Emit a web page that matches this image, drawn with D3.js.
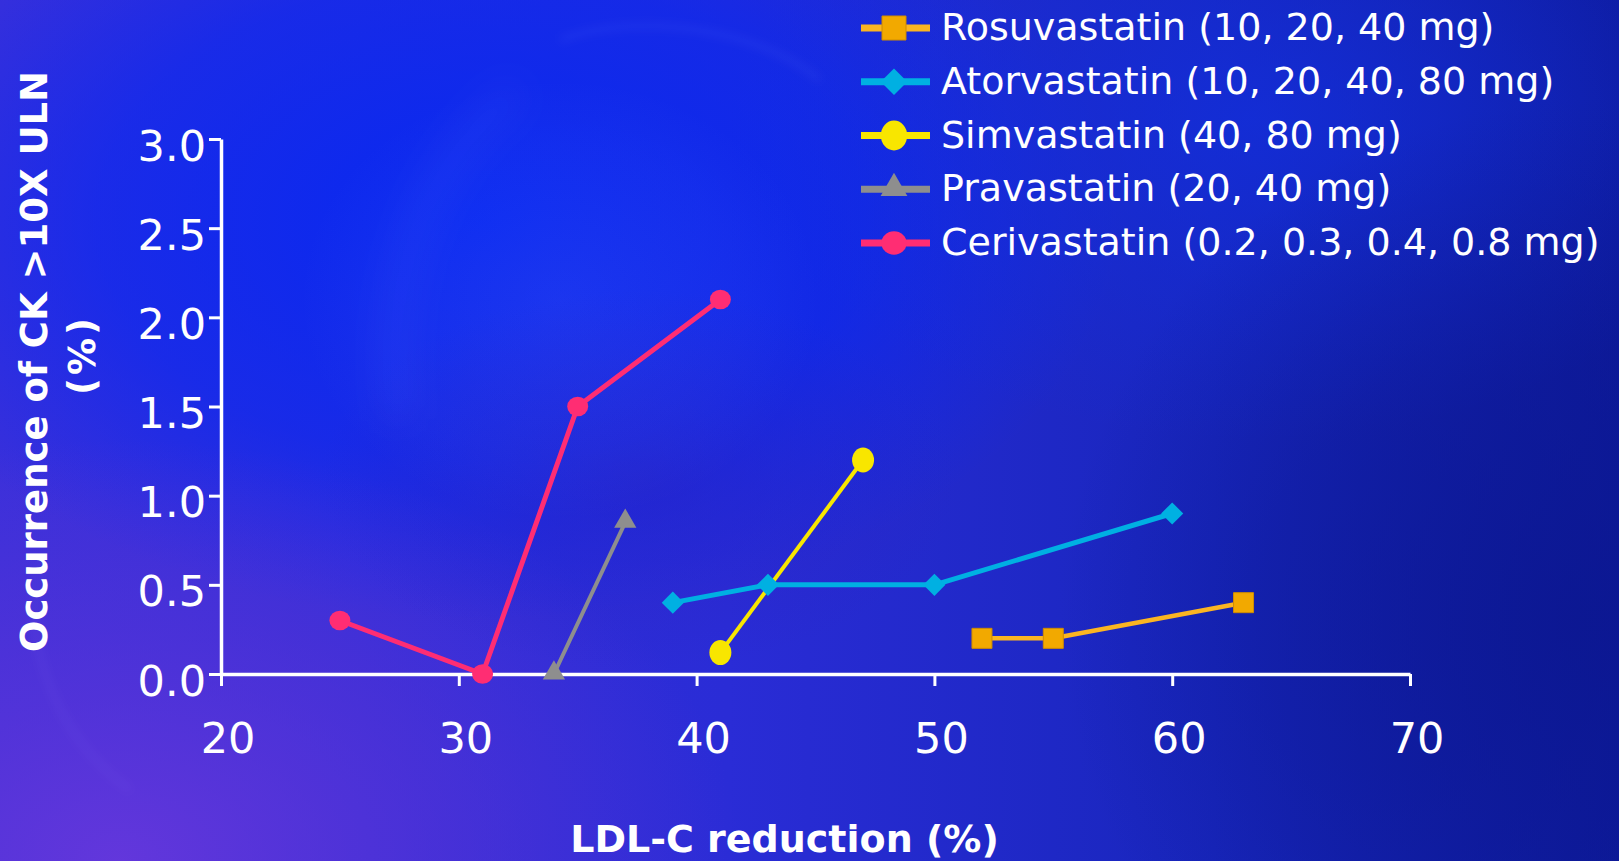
<!DOCTYPE html>
<html>
<head>
<meta charset="utf-8">
<script src="https://cdn.jsdelivr.net/npm/d3@7"></script>
<style>
  html, body { margin: 0; padding: 0; overflow: hidden; background: #1b24c8; }
  svg { display: block; }
</style>
</head>
<body>
<svg id="chart" width="1619" height="861"></svg>
<script>
// ---- data: LDL-C reduction (%) vs occurrence of CK > 10x ULN (%) ----
const seriesNames = [
  "Rosuvastatin (10, 20, 40 mg)",
  "Atorvastatin (10, 20, 40, 80 mg)",
  "Simvastatin (40, 80 mg)",
  "Pravastatin (20, 40 mg)",
  "Cerivastatin (0.2, 0.3, 0.4, 0.8 mg)"
];
const rosuvastatinX = [52, 55, 63];
const rosuvastatinY = [0.2, 0.2, 0.4];
const atorvastatinX = [39, 43, 50, 60];
const atorvastatinY = [0.4, 0.5, 0.5, 0.9];
const simvastatinX = [41, 47];
const simvastatinY = [0.12, 1.2];
const pravastatinX = [34, 37];
const pravastatinY = [0.0, 0.85];
const cerivastatinX = [25, 31, 35, 41];
const cerivastatinY = [0.3, 0.0, 1.5, 2.1];

const xTicks = [20, 30, 40, 50, 60, 70];
const yTicks = [0, 0.5, 1.0, 1.5, 2.0, 2.5, 3.0];
const xTitle = "LDL-C reduction (%)";
const yTitleLines = ["Occurrence of CK >10X ULN", "(%)"];

// ---- styling per series ----
const styles = [
  { key: "rosu", line: "#FBB522", fill: "#F2A900", marker: "square",  width: 4.5 },
  { key: "ator", line: "#00B0E2", fill: "#00B0E2", marker: "diamond", width: 5 },
  { key: "simv", line: "#F8E600", fill: "#F8E600", marker: "ellipse", width: 4 },
  { key: "prav", line: "#8E8E8E", fill: "#8E8E8E", marker: "triangle", width: 4 },
  { key: "ceri", line: "#FF2D73", fill: "#FF2D73", marker: "circle",  width: 5 }
];
const series = [
  { name: seriesNames[0], xs: rosuvastatinX, ys: rosuvastatinY, s: styles[0] },
  { name: seriesNames[1], xs: atorvastatinX, ys: atorvastatinY, s: styles[1] },
  { name: seriesNames[2], xs: simvastatinX, ys: simvastatinY, s: styles[2] },
  { name: seriesNames[3], xs: pravastatinX, ys: pravastatinY, s: styles[3] },
  { name: seriesNames[4], xs: cerivastatinX, ys: cerivastatinY, s: styles[4] }
];

const W = 1619, H = 861;
const svg = d3.select("#chart");
const defs = svg.append("defs");

// ---- background ----
const base = defs.append("linearGradient").attr("id", "bgBase")
  .attr("x1", 0).attr("y1", 0).attr("x2", 1).attr("y2", 0);
[[0, "#3a30da"], [0.45, "#2a2cd6"], [0.75, "#1826bd"], [1, "#0e1b9e"]]
  .forEach(([o, c]) => base.append("stop").attr("offset", o).attr("stop-color", c));

function radial(id, stops) {
  const g = defs.append("radialGradient").attr("id", id);
  stops.forEach(([o, c, a]) => g.append("stop").attr("offset", o).attr("stop-color", c).attr("stop-opacity", a));
}
radial("bgBlue",   [[0, "#0628f2", 0.95], [0.6, "#0628f2", 0.6], [1, "#0628f2", 0]]);
radial("bgPurple", [[0, "#6a38dc", 0.85], [0.6, "#6034d6", 0.4], [1, "#6034d6", 0]]);
radial("bgNavy",   [[0, "#0b168e", 0.75], [0.6, "#0b168e", 0.35], [1, "#0b168e", 0]]);
radial("bgTopR",   [[0, "#1230e0", 0.7], [1, "#1230e0", 0]]);
radial("bgMid",    [[0, "#2a22c0", 0.5], [1, "#2a22c0", 0]]);
radial("haze",     [[0, "#9aa8ff", 0.10], [0.7, "#9aa8ff", 0.04], [1, "#9aa8ff", 0]]);

const blur = defs.append("filter").attr("id", "soft")
  .attr("x", "-50%").attr("y", "-50%").attr("width", "200%").attr("height", "200%");
blur.append("feGaussianBlur").attr("stdDeviation", 18);
const blurS = defs.append("filter").attr("id", "softS")
  .attr("x", "-50%").attr("y", "-50%").attr("width", "200%").attr("height", "200%");
blurS.append("feGaussianBlur").attr("stdDeviation", 5);

const bg = svg.append("g").attr("class", "background");
bg.append("rect").attr("width", W).attr("height", H).attr("fill", "url(#bgBase)");
bg.append("ellipse").attr("cx", 480).attr("cy", 220).attr("rx", 640).attr("ry", 400).attr("fill", "url(#bgBlue)");
bg.append("ellipse").attr("cx", 1250).attr("cy", 120).attr("rx", 520).attr("ry", 320).attr("fill", "url(#bgTopR)");
bg.append("ellipse").attr("cx", 120).attr("cy", 860).attr("rx", 620).attr("ry", 420).attr("fill", "url(#bgPurple)");
bg.append("ellipse").attr("cx", 1580).attr("cy", 620).attr("rx", 520).attr("ry", 520).attr("fill", "url(#bgNavy)");
bg.append("ellipse").attr("cx", 640).attr("cy", 480).attr("rx", 320).attr("ry", 190).attr("fill", "url(#bgMid)");

// soft smoke haze
bg.append("ellipse").attr("cx", 560).attr("cy", 300).attr("rx", 260).attr("ry", 220).attr("fill", "url(#haze)");
const swirl = bg.append("g").attr("fill", "none").attr("stroke", "#b8c2ff");
swirl.append("path").attr("d", "M400,420 C380,300 420,160 520,90")
  .attr("stroke-width", 30).attr("stroke-opacity", 0.05).attr("filter", "url(#soft)");
swirl.append("path").attr("d", "M560,40 C640,10 760,30 820,80")
  .attr("stroke-width", 5).attr("stroke-opacity", 0.08).attr("filter", "url(#softS)");
swirl.append("path").attr("d", "M40,560 C20,650 60,740 130,790")
  .attr("stroke-width", 4).attr("stroke-opacity", 0.08).attr("filter", "url(#softS)");

// ---- scales ----
const x = d3.scaleLinear().domain([20, 70]).range([221, 1410]);
const y = d3.scaleLinear().domain([0, 3]).range([674, 139]);

const FONT = "'DejaVu Sans', Verdana, sans-serif";

// ---- axes ----
const yAxis = svg.append("g").attr("transform", `translate(${x(20)},0)`)
  .call(d3.axisLeft(y).tickValues(yTicks).tickFormat(d3.format(".1f"))
    .tickSize(12).tickSizeOuter(0).tickPadding(3));
const xAxis = svg.append("g").attr("transform", `translate(0,${y(0)})`)
  .call(d3.axisBottom(x).tickValues(xTicks).tickFormat(d3.format("d"))
    .tickSize(12).tickSizeOuter(0).tickPadding(36));

[yAxis, xAxis].forEach(g => {
  g.select(".domain").attr("stroke", "#fff").attr("stroke-width", 3.5);
  g.selectAll(".tick line").attr("stroke", "#fff").attr("stroke-width", 3);
  g.selectAll(".tick text").attr("fill", "#fff")
    .style("font-family", FONT).style("font-size", "43px");
});
yAxis.selectAll(".tick text").attr("dy", "0.49em");
xAxis.selectAll(".tick text").attr("dx", 6.5).attr("dy", "0.71em");

// axis titles
svg.append("text").attr("x", 784.5).attr("y", 852)
  .attr("text-anchor", "middle").attr("fill", "#fff")
  .style("font-family", FONT).style("font-weight", "bold").style("font-size", "38px")
  .text(xTitle);
svg.append("text").attr("transform", "translate(46.5,361.5) rotate(-90)")
  .attr("text-anchor", "middle").attr("fill", "#fff")
  .style("font-family", FONT).style("font-weight", "bold").style("font-size", "37px")
  .text(yTitleLines[0]);
svg.append("text").attr("transform", "translate(95,355) rotate(-90)")
  .attr("text-anchor", "middle").attr("fill", "#fff")
  .style("font-family", FONT).style("font-weight", "bold").style("font-size", "37px")
  .attr("letter-spacing", "3px")
  .text(yTitleLines[1]);

// ---- marker drawing ----
function drawMarker(sel, kind, color, scale) {
  const k = scale || 1;
  if (kind === "square") {
    sel.append("path").attr("d", d3.symbol(d3.symbolSquare, 400 * k * k)())
      .attr("fill", color).attr("stroke", "#d08c00").attr("stroke-width", 1);
  } else if (kind === "diamond") {
    sel.append("path").attr("d", d3.symbol(d3.symbolSquare, 245 * k * k)())
      .attr("transform", "rotate(45)").attr("fill", color);
  } else if (kind === "triangle") {
    sel.append("path").attr("d", d3.symbol(d3.symbolTriangle, 215 * k * k)())
      .attr("transform", "translate(0,-1)").attr("fill", color);
  } else if (kind === "ellipse") {
    sel.append("ellipse").attr("rx", 11 * k).attr("ry", 12.5 * k).attr("fill", color);
  } else {
    sel.append("ellipse").attr("rx", 10.5 * k).attr("ry", 9.8 * k).attr("fill", color);
  }
}

// ---- series (drawn back to front) ----
const line = d3.line().x(d => x(d[0])).y(d => y(d[1]));
const plot = svg.append("g").attr("class", "series");
[4, 3, 2, 1, 0].forEach(i => {
  const sr = series[i];
  const pts = sr.xs.map((v, j) => [v, sr.ys[j]]);
  const g = plot.append("g").attr("class", sr.s.key);
  g.append("path").datum(pts).attr("d", line)
    .attr("fill", "none").attr("stroke", sr.s.line)
    .attr("stroke-width", sr.s.width).attr("stroke-linejoin", "round");
  g.selectAll("g.pt").data(pts).join("g").attr("class", "pt")
    .attr("transform", d => `translate(${x(d[0])},${y(d[1])})`)
    .each(function () { drawMarker(d3.select(this), sr.s.marker, sr.s.fill, 1); });
});

// ---- legend ----
const legendY = d3.scaleLinear().domain([0, 4]).range([28, 243]);
const legend = svg.append("g").attr("class", "legend");
series.forEach((sr, i) => {
  const g = legend.append("g").attr("transform", `translate(0,${legendY(i)})`);
  g.append("line").attr("x1", 861).attr("x2", 930).attr("y1", 0).attr("y2", 0)
    .attr("stroke", sr.s.line).attr("stroke-width", 7);
  const m = g.append("g").attr("transform", "translate(894,0)");
  drawMarker(m, sr.s.marker, sr.s.fill, 1.2);
  g.append("text").attr("x", 941).attr("y", 12).attr("fill", "#fff")
    .style("font-family", FONT).style("font-size", "38px")
    .text(sr.name);
});
</script>
</body>
</html>
